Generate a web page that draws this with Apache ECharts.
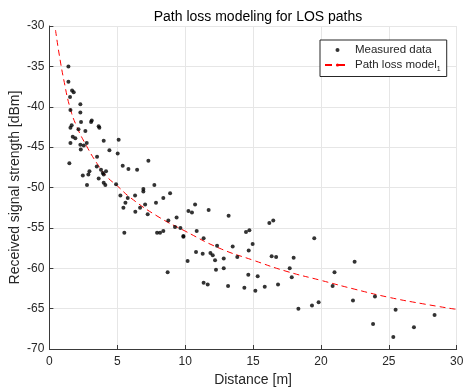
<!DOCTYPE html>
<html>
<head>
<meta charset="utf-8">
<script src="https://cdn.jsdelivr.net/npm/echarts@6/dist/echarts.min.js"></script>
<style>
  html, body { margin: 0; padding: 0; background: #fff; }
  #chart { width: 463px; height: 391px; }
</style>
</head>
<body>
<div id="chart"></div>
<script>
// measured points [distance m, rss dBm]
const measuredData = [
  [1.4, -35.0], [1.4, -36.9], [1.67, -38.0], [1.79, -38.2], [1.52, -38.8], [1.55, -40.4],
  [2.28, -39.7], [2.28, -40.7], [2.33, -41.9], [1.55, -42.6], [1.64, -42.3], [3.07, -41.9],
  [3.12, -41.7], [2.14, -42.8], [2.65, -43.0], [3.68, -42.6], [3.63, -42.4], [1.72, -43.7],
  [1.91, -43.9], [1.55, -44.5], [2.28, -44.7], [2.53, -44.8], [2.75, -44.5], [2.31, -45.3],
  [4.0, -44.2], [4.42, -45.4], [5.1, -44.1], [5.03, -45.8], [3.51, -46.2], [1.47, -47.0],
  [5.4, -47.3], [5.82, -47.7], [6.46, -47.8], [7.29, -46.7], [3.49, -47.4], [3.8, -47.8],
  [3.93, -48.2], [4.17, -48.0], [3.63, -48.9], [4.0, -48.4], [2.95, -48.0], [2.46, -48.5],
  [2.87, -48.4], [4.0, -49.4], [4.12, -49.7], [2.77, -49.7], [4.91, -49.6], [5.23, -51.0],
  [5.77, -51.3], [6.31, -51.0], [6.92, -50.2], [6.92, -50.5], [7.73, -49.7], [8.39, -51.3],
  [8.89, -50.7],
  [5.6, -51.9], [5.45, -52.5], [6.33, -53.0], [6.68, -52.5], [7.05, -52.1], [7.24, -53.3],
  [7.85, -51.9], [5.52, -55.6], [7.93, -55.6], [8.15, -55.6], [8.39, -55.4], [8.76, -54.1],
  [9.37, -53.7], [9.25, -54.9], [9.65, -55.0], [9.87, -56.0], [9.87, -56.1], [10.24, -52.9],
  [10.5, -53.1], [10.73, -52.1], [10.85, -55.4], [11.36, -56.3], [11.73, -52.8], [13.2, -53.5],
  [8.71, -60.5], [10.18, -59.1], [10.8, -58.0], [11.29, -58.2], [11.86, -58.1], [12.03, -58.4],
  [12.2, -59.0], [12.35, -57.2], [12.84, -58.8], [12.27, -60.2], [12.84, -60.0], [13.5, -57.3],
  [11.36, -61.8], [11.66, -62.0], [13.16, -62.2],
  [13.84, -58.6], [14.48, -55.5], [14.73, -55.3], [14.68, -57.8], [14.97, -57.0], [14.65, -60.8],
  [14.36, -62.4], [15.17, -62.8], [15.34, -61.0], [15.86, -62.3], [16.2, -54.4], [16.49, -54.1],
  [16.37, -58.5], [16.7, -58.6], [16.84, -62.0], [17.7, -60.0], [17.85, -61.1], [17.99, -58.7],
  [18.34, -65.0], [19.34, -64.6], [19.83, -64.2], [19.51, -56.3], [20.86, -62.2], [21.0, -60.5],
  [22.48, -59.2], [22.36, -64.0],
  [23.98, -63.5], [23.84, -66.9], [25.5, -65.15], [25.33, -68.5], [26.85, -67.3], [28.37, -65.8]
]

// fitted model curve, sampled off the dashed line
const modelDistance = [0.45, 0.75, 1.1, 1.5, 2, 2.75, 3.5, 4.2, 5, 6, 8, 10, 12.5, 15, 17.5, 20, 22.5, 25, 27.5, 30]
const modelRss = [-30.5, -33.8, -37.0, -40.0, -42.4, -44.9, -47.0, -48.6, -49.8, -51.3, -53.6, -55.4, -57.5, -59.0, -60.4, -61.5, -62.6, -63.6, -64.4, -65.1]

const xTicks = [0, 5, 10, 15, 20, 25, 30]
const yTicks = [-70, -65, -60, -55, -50, -45, -40, -35, -30]

const FONT = '"Liberation Sans", Arial, Helvetica, sans-serif'
const TEXT = '#262626'
const AXIS = '#3a3a3a'
const GRID = '#e6e6e6'

const chart = echarts.init(document.getElementById('chart'))

chart.setOption({
  animation: false,
  textStyle: { fontFamily: FONT },
  title: {
    text: 'Path loss modeling for LOS paths',
    left: 253,
    textAlign: 'center',
    top: 5,
    textStyle: { fontFamily: FONT, fontSize: 14, fontWeight: 'normal', color: '#000' },
  },
  grid: { left: 49.4, right: 6.3, top: 26, bottom: 42, outerBoundsMode: 'none', containLabel: false },
  legend: {
    orient: 'vertical',
    left: 320,
    top: 40,
    padding: [4, 6, 4, 4],
    itemGap: 3,
    itemWidth: 25,
    itemHeight: 4,
    borderColor: '#262626',
    borderWidth: 1,
    backgroundColor: '#fff',
    textStyle: {
      fontFamily: FONT,
      fontSize: 11.5,
      color: TEXT,
      rich: {
        n: { fontFamily: FONT, fontSize: 11.5, color: TEXT },
        sub: { fontFamily: FONT, fontSize: 7, color: TEXT, padding: [8, 0, 0, 0] },
      },
    },
    formatter: (name) => (name === 'Path loss model' ? '{n|Path loss model}{sub|1}' : name),
    data: [
      'Measured data',
      { name: 'Path loss model', lineStyle: { type: [7, 6] } },
    ],
  },
  xAxis: {
    type: 'value',
    min: 0,
    max: 30,
    interval: 5,
    name: 'Distance [m]',
    nameLocation: 'middle',
    nameGap: 24,
    nameMoveOverlap: false,
    nameTextStyle: { fontFamily: FONT, fontSize: 14, color: TEXT },
    axisLine: { lineStyle: { color: AXIS, width: 1 } },
    axisTick: { inside: true, length: 4, lineStyle: { color: AXIS } },
    axisLabel: {
      margin: 7,
      fontSize: 12,
      color: TEXT,
      customValues: xTicks,
    },
    splitLine: { show: true, lineStyle: { color: GRID, width: 1 } },
  },
  yAxis: {
    type: 'value',
    min: -70,
    max: -30,
    interval: 5,
    name: 'Received signal strength [dBm]',
    nameLocation: 'middle',
    nameGap: 27,
    nameMoveOverlap: false,
    nameTextStyle: { fontFamily: FONT, fontSize: 14, color: TEXT },
    axisLine: { show: true, lineStyle: { color: AXIS, width: 1 } },
    axisTick: { show: true, inside: true, length: 4, lineStyle: { color: AXIS } },
    axisLabel: {
      margin: 5,
      fontSize: 12,
      color: TEXT,
      customValues: yTicks,
    },
    splitLine: { show: true, lineStyle: { color: GRID, width: 1 } },
  },
  series: [
    {
      name: 'Measured data',
      type: 'scatter',
      symbol: 'circle',
      symbolSize: 4,
      data: measuredData,
      itemStyle: { color: '#000' },
      z: 3,
    },
    {
      name: 'Path loss model',
      type: 'line',
      smooth: true,
      symbol: 'none',
      data: modelDistance.map((d, i) => [d, modelRss[i]]),
      lineStyle: { color: '#ff0000', width: 1, type: [6, 4] },
      itemStyle: { color: '#ff0000' },
      z: 2,
    },
  ],
})
</script>
</body>
</html>
